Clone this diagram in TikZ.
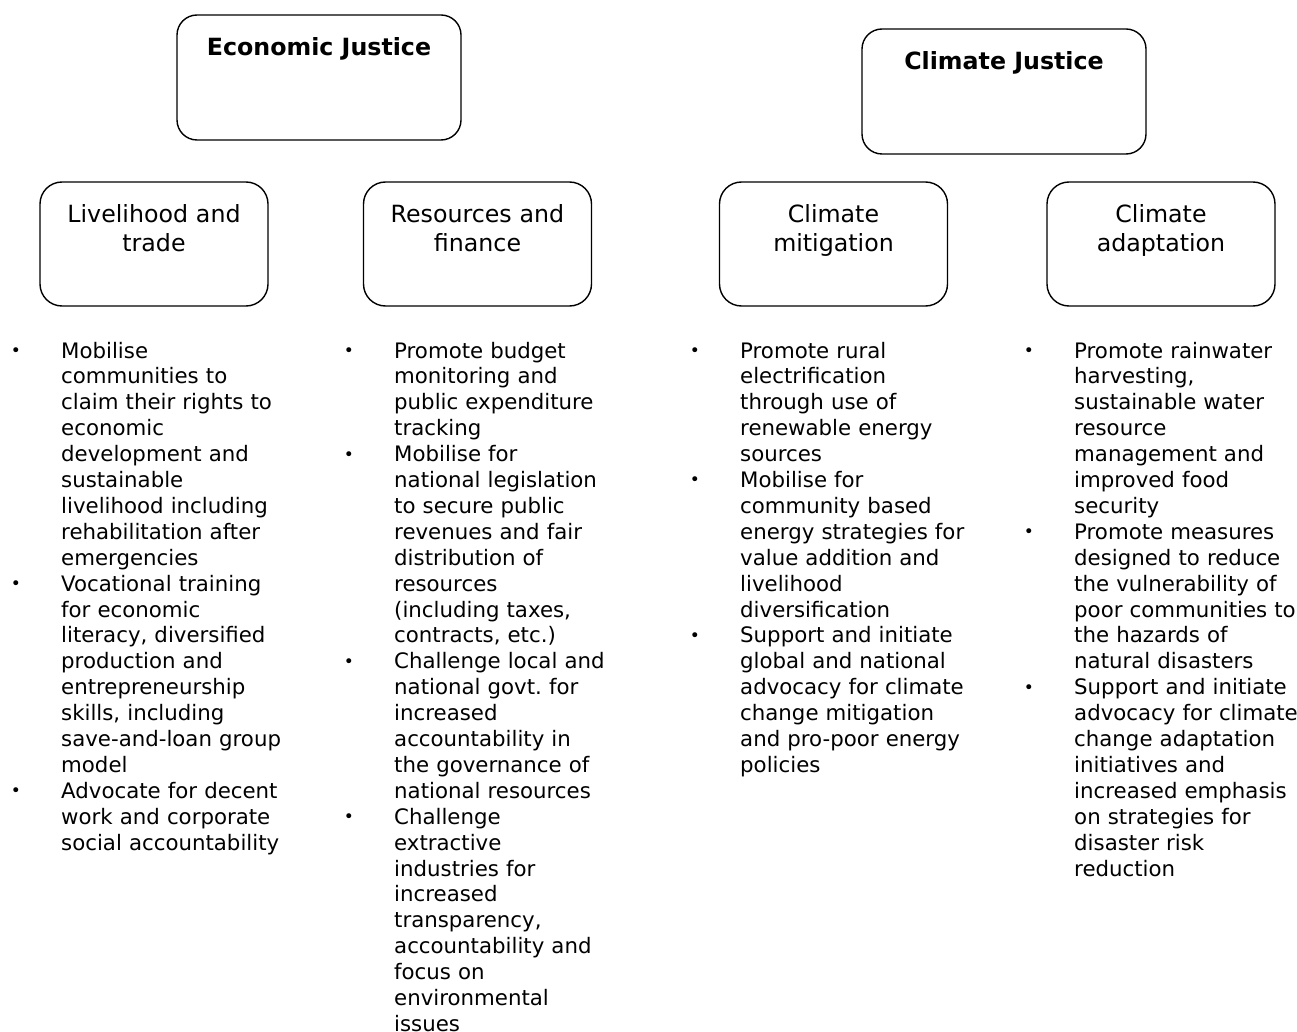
\documentclass[tikz,border=0pt]{standalone}
\usepackage{fontspec}
\setmainfont{DejaVu Sans}
\usetikzlibrary{positioning}

\newcommand{\bul}{\leavevmode\llap{\makebox[50.3pt][l]{\raisebox{1.6pt}{\fontsize{17}{17}\selectfont\textbullet}}}}

\begin{document}
\begin{tikzpicture}[x=1pt, y=-1pt,
    topbox/.style={draw, line width=1.4pt, rounded corners=20pt, minimum width=284pt, minimum height=125pt, inner sep=0pt},
    subbox/.style={draw, line width=1.4pt, rounded corners=22pt, minimum width=228pt, minimum height=124pt, inner sep=0pt},
    titletext/.style={font=\fontsize{23.7}{29}\selectfont\bfseries, anchor=base, inner sep=0pt},
    boxtext/.style={font=\fontsize{23.7}{29}\selectfont, align=center, text width=220pt, anchor=base, inner sep=0pt},
    listtext/.style={font=\fontsize{21.3}{25.9}\selectfont, align=left, text width=250pt, anchor=base west, inner sep=0pt}]
    \useasboundingbox (0,0) rectangle (1297,1032);

    % Top level boxes
    \node[topbox] (econ) at (319,77.5) {};
    \node[titletext] (econt) at ([yshift=-41pt]econ.north) {Economic Justice};

    \node[topbox] (clim) at (1004,91.5) {};
    \node[titletext] (climt) at ([yshift=-41pt]clim.north) {Climate Justice};

    % Second level boxes
    \node[subbox] (live) at (154,244) {};
    \node[boxtext] (livet) at ([yshift=-41pt]live.north) {Livelihood and\\trade};

    \node[subbox] (reso) at (477.5,244) {};
    \node[boxtext] (resot) at ([yshift=-41pt]reso.north) {Resources and\\finance};

    \node[subbox] (miti) at (833.5,244) {};
    \node[boxtext] (mitit) at ([yshift=-41pt]miti.north) {Climate\\mitigation};

    \node[subbox] (adap) at (1161,244) {};
    \node[boxtext] (adapt) at ([yshift=-41pt]adap.north) {Climate\\adaptation};

    % Bullet lists
    \node[listtext] (livelist) at (61,358) {%
        \bul Mobilise\\ communities to\\ claim their rights to\\ economic\\ development and\\ sustainable\\ livelihood including\\ rehabilitation after\\ emergencies\\
        \bul Vocational training\\ for economic\\ literacy, diversified\\ production and\\ entrepreneurship\\ skills, including\\ save-and-loan group\\ model\\
        \bul Advocate for decent\\ work and corporate\\ social accountability};

    \node[listtext] (resolist) at (394,358) {%
        \bul Promote budget\\ monitoring and\\ public expenditure\\ tracking\\
        \bul Mobilise for\\ national legislation\\ to secure public\\ revenues and fair\\ distribution of\\ resources\\ (including taxes,\\ contracts, etc.)\\
        \bul Challenge local and\\ national govt.\ for\\ increased\\ accountability in\\ the governance of\\ national resources\\
        \bul Challenge\\ extractive\\ industries for\\ increased\\ transparency,\\ accountability and\\ focus on\\ environmental\\ issues};

    \node[listtext] (mitilist) at (740,358) {%
        \bul Promote rural\\ electrification\\ through use of\\ renewable energy\\ sources\\
        \bul Mobilise for\\ community based\\ energy strategies for\\ value addition and\\ livelihood\\ diversification\\
        \bul Support and initiate\\ global and national\\ advocacy for climate\\ change mitigation\\ and pro-poor energy\\ policies};

    \node[listtext] (adaplist) at (1074,358) {%
        \bul Promote rainwater\\ harvesting,\\ sustainable water\\ resource\\ management and\\ improved food\\ security\\
        \bul Promote measures\\ designed to reduce\\ the vulnerability of\\ poor communities to\\ the hazards of\\ natural disasters\\
        \bul Support and initiate\\ advocacy for climate\\ change adaptation\\ initiatives and\\ increased emphasis\\ on strategies for\\ disaster risk\\ reduction};
\end{tikzpicture}
\end{document}
